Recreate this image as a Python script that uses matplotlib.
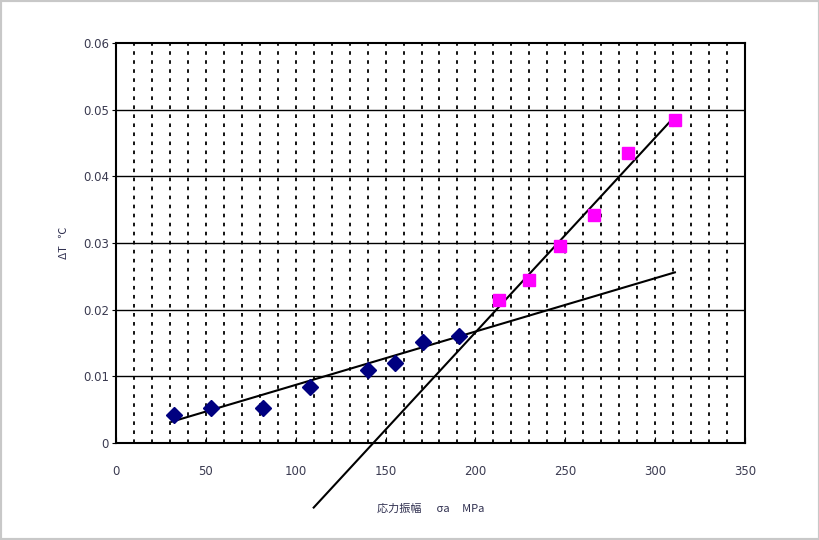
import matplotlib
matplotlib.use("Agg")
import matplotlib.pyplot as plt
import numpy as np
from matplotlib.patches import Rectangle

plt.rcParams['font.family'] = ['DejaVu Sans', 'Noto Sans CJK JP']

# stress amplitude (MPa) vs temperature rise (deg C)
low_x = [32, 53, 82, 108, 140, 155, 171, 191]
low_y = [0.0042, 0.0053, 0.0052, 0.0084, 0.0110, 0.0120, 0.0151, 0.0161]
high_x = [213, 230, 247, 266, 285, 311]
high_y = [0.0214, 0.0245, 0.0295, 0.0342, 0.0435, 0.0485]

# fitted lines: slope, intercept, x range
low_fit = (0.0000800, 0.00072, 31, 311)
high_fit = (0.000292, -0.0418, 110, 311)

x_ticks = [0, 50, 100, 150, 200, 250, 300, 350]
y_ticks = [0, 0.01, 0.02, 0.03, 0.04, 0.05, 0.06]
y_labels = ["0", "0.01", "0.02", "0.03", "0.04", "0.05", "0.06"]

fig = plt.figure(figsize=(8.2, 5.4), dpi=100)
ax = fig.add_axes([0.1415, 0.1796, 0.767, 0.7407])

ax.set_xlim(0, 350)
ax.set_ylim(0, 0.06)

# grid: solid horizontal, dashed vertical every 10
for y in y_ticks[1:-1]:
    ax.axhline(y, color="black", lw=1.0, zorder=1)
for x in range(10, 350, 10):
    ln = ax.axvline(x, color="black", lw=1.3, zorder=1)
    ln.set_dashes((2.0, 3.0))

for slope, icpt, x0, x1 in (low_fit, high_fit):
    xs = np.array([x0, x1])
    ax.plot(xs, slope * xs + icpt, color="black", lw=1.5, zorder=3, clip_on=False)

ax.plot(low_x, low_y, "D", color="#000080", ms=8, zorder=4, clip_on=False)
ax.plot(high_x, high_y, "s", color="#ff00ff", ms=9, mec="#ff00ff", zorder=4)

ax.set_xticks(x_ticks)
ax.set_yticks(y_ticks)
ax.set_yticklabels(y_labels)
ax.tick_params(axis="x", direction="in", length=4, labelsize=8.5, labelcolor="#3a3a50", pad=16)
ax.tick_params(axis="y", direction="out", length=3, labelsize=8.5, labelcolor="#3a3a50", pad=2)
for s in ax.spines.values():
    s.set_linewidth(1.5)

ax.set_xlabel("応力振幅      σa     MPa", fontsize=8, color="#303050", labelpad=18,
              family=["Noto Sans CJK JP", "DejaVu Sans"])
ax.set_ylabel("ΔT   ℃", fontsize=8, color="#303050", labelpad=10,
              family=["Noto Sans CJK JP", "DejaVu Sans"])

fig.patches.append(Rectangle((0, 0), 1, 1, transform=fig.transFigure, fill=False,
                             edgecolor="#c8c8c8", lw=3))

fig.savefig("out.png", dpi=100)
